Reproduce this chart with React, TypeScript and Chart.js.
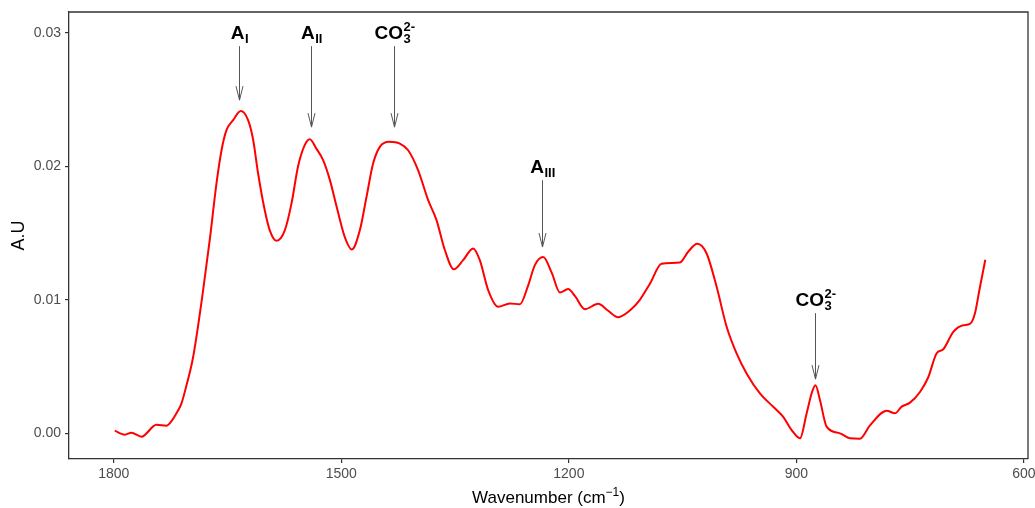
import React, { useEffect, useRef } from 'react';
import { Chart, registerables } from 'chart.js';

Chart.register(...registerables);

// Spectrum (wavenumber in cm^-1, absorbance in A.U)
const wavenumbers = [
  1798.7, 1785.5, 1776.7, 1763.5, 1743.7, 1730.5, 1726.2, 1717.3, 1710.7, 1704.1,
  1695.4, 1682.2, 1673.4, 1664.6, 1657.9, 1651.4, 1642.7, 1632.5, 1622.9, 1616.3,
  1609.7, 1600.9, 1594.3, 1585.5, 1574.5, 1565.7, 1557.0, 1548.1, 1541.5, 1532.7,
  1524.0, 1515.2, 1506.3, 1495.4, 1486.1, 1475.6, 1466.8, 1458.1, 1449.2, 1437.0,
  1422.9, 1411.9, 1398.7, 1385.5, 1374.5, 1363.5, 1351.6, 1339.4, 1326.2, 1317.4,
  1306.4, 1293.2, 1277.8, 1264.6, 1254.1, 1244.8, 1233.9, 1222.4, 1211.9, 1201.0,
  1192.1, 1178.9, 1161.4, 1148.6, 1135.0, 1119.6, 1106.4, 1093.2, 1077.8, 1053.6,
  1042.7, 1030.8, 1018.4, 1005.2, 992.0, 978.9, 965.7, 948.1, 930.6, 917.4,
  906.3, 895.3, 886.5, 879.9, 874.9, 869.0, 860.2, 842.6, 829.4, 816.2,
  803.0, 781.0, 770.1, 761.3, 750.3, 737.1, 726.2, 715.1, 706.4, 693.2,
  680.0, 671.2, 664.6, 658.9, 651.0,
];
const absorbance = [
  0.0002, -0.0001, 0.00005, -0.00025, 0.00064, 0.00057, 0.00075, 0.0015, 0.00225, 0.0036,
  0.0057, 0.0107, 0.0145, 0.0187, 0.0212, 0.0227, 0.02345, 0.02413, 0.02345, 0.0220,
  0.01946, 0.0167, 0.0152, 0.01442, 0.0152, 0.0172, 0.0200, 0.0216, 0.02203, 0.0213,
  0.02046, 0.0190, 0.0170, 0.0147, 0.01377, 0.0152, 0.0177, 0.0202, 0.02145, 0.02183,
  0.0217, 0.0212, 0.0197, 0.01746, 0.01597, 0.01373, 0.01228, 0.01297, 0.01385, 0.01297,
  0.01073, 0.00948, 0.00973, 0.00966, 0.0110, 0.0126, 0.0132, 0.0120, 0.01055, 0.0108,
  0.0103, 0.0093, 0.0097, 0.0092, 0.0087, 0.0092, 0.0100, 0.0112, 0.0127, 0.0128,
  0.0136, 0.0142, 0.01347, 0.01097, 0.00798, 0.00599, 0.00449, 0.00299, 0.00199, 0.00124,
  0.00025, -0.00037, 0.0015, 0.0030, 0.0036, 0.0025, 0.0005, 0.0000, -0.00037, -0.0004,
  0.0006, 0.0017, 0.0015, 0.0020, 0.0023, 0.0031, 0.0042, 0.0060, 0.0063, 0.0076,
  0.0081, 0.0082, 0.0090, 0.0107, 0.0130,
];

const xTicks = [1800, 1500, 1200, 900, 600];
const yTicks = [0, 0.01, 0.02, 0.03];
const xTitle = 'Wavenumber (cm';
const xTitleSup = '\u22121';
const yTitle = 'A.U';

// Band annotations
const annMain = ['A', 'A', 'CO', 'A', 'CO'];
const annSub = ['I', 'II', '3', 'III', '3'];
const annSup = ['', '', '2-', '', '2-'];
const annWavenumber = [1635, 1540.6, 1430.8, 1236, 875.6];
const annArrowTop = [0.02899, 0.02899, 0.02899, 0.01896, 0.0090];
const annArrowTip = [0.02495, 0.02293, 0.02293, 0.01395, 0.00406];

const FONT = '"Liberation Sans", Arial, Helvetica, sans-serif';

const decorPlugin = {
  id: 'decor',
  afterDatasetsDraw(chart: any) {
    const { ctx, chartArea, scales } = chart;
    const x = scales.x;
    const y = scales.y;
    ctx.save();
    // top and right borders
    ctx.strokeStyle = '#333333';
    ctx.lineWidth = 1.3;
    ctx.beginPath();
    ctx.moveTo(chartArea.left, chartArea.top);
    ctx.lineTo(chartArea.right, chartArea.top);
    ctx.lineTo(chartArea.right, chartArea.bottom);
    ctx.stroke();

    // annotations
    for (let i = 0; i < annMain.length; i++) {
      const px = Math.round(x.getPixelForValue(annWavenumber[i])) + 0.5;
      const top = y.getPixelForValue(annArrowTop[i]);
      const tip = y.getPixelForValue(annArrowTip[i]);
      ctx.strokeStyle = '#555555';
      ctx.lineWidth = 1;
      ctx.beginPath();
      ctx.moveTo(px, top);
      ctx.lineTo(px, tip);
      ctx.stroke();
      ctx.beginPath();
      ctx.moveTo(px - 3.5, tip - 14);
      ctx.lineTo(px, tip);
      ctx.lineTo(px + 3.5, tip - 14);
      ctx.stroke();

      const base = top - 7;
      ctx.fillStyle = '#000000';
      ctx.textBaseline = 'alphabetic';
      ctx.textAlign = 'left';
      ctx.font = `bold 19px ${FONT}`;
      const mw = ctx.measureText(annMain[i]).width;
      ctx.font = `bold 13px ${FONT}`;
      const sw = Math.max(ctx.measureText(annSub[i]).width, ctx.measureText(annSup[i]).width);
      const start = px - (mw + sw) / 2;
      ctx.font = `bold 19px ${FONT}`;
      ctx.fillText(annMain[i], start, base);
      ctx.font = `bold 13px ${FONT}`;
      ctx.fillText(annSub[i], start + mw + 0.5, base + 4);
      if (annSup[i]) ctx.fillText(annSup[i], start + mw + 0.5, base - 8);
    }

    // axis titles
    ctx.fillStyle = '#000000';
    ctx.font = `17px ${FONT}`;
    const cx = (chartArea.left + chartArea.right) / 2;
    const tw = ctx.measureText(xTitle).width;
    ctx.font = `12px ${FONT}`;
    const supw = ctx.measureText(xTitleSup).width;
    ctx.font = `17px ${FONT}`;
    const pw = ctx.measureText(')').width;
    const total = tw + supw + pw;
    const sx = cx - total / 2;
    const by = 503;
    ctx.textAlign = 'left';
    ctx.fillText(xTitle, sx, by);
    ctx.font = `12px ${FONT}`;
    ctx.fillText(xTitleSup, sx + tw, by - 7);
    ctx.font = `17px ${FONT}`;
    ctx.fillText(')', sx + tw + supw, by);

    ctx.translate(19, (chartArea.top + chartArea.bottom) / 2);
    ctx.rotate(-Math.PI / 2);
    ctx.textAlign = 'center';
    ctx.textBaseline = 'middle';
    ctx.font = `18px ${FONT}`;
    ctx.fillText(yTitle, 0, 0);
    ctx.restore();
  },
};

export default function App() {
  const ref = useRef<HTMLCanvasElement>(null);
  useEffect(() => {
    document.body.style.margin = '0';
    const canvas = ref.current;
    if (!canvas) return;
    const points = wavenumbers.map((w, i) => ({ x: w, y: absorbance[i] }));
    const chart = new Chart(canvas, {
      type: 'line',
      data: {
        datasets: [
          {
            data: points,
            borderColor: '#ff0000',
            borderWidth: 2,
            pointRadius: 0,
            fill: false,
            cubicInterpolationMode: 'monotone',
          },
        ],
      },
      options: {
        animation: false,
        responsive: true,
        maintainAspectRatio: false,
        layout: { padding: { top: 12, right: 7, left: 0, bottom: 0 } },
        plugins: { legend: { display: false }, tooltip: { enabled: false } },
        scales: {
          x: {
            type: 'linear',
            reverse: true,
            min: 594.7,
            max: 1859,
            afterBuildTicks: (s: any) => {
              s.ticks = xTicks.map((v) => ({ value: v }));
            },
            afterFit: (s: any) => {
              s.height = 49;
              s.paddingLeft = 0;
              s.paddingRight = 0;
            },
            ticks: {
              color: '#4d4d4d',
              font: { size: 14, family: FONT },
              padding: 3,
              maxRotation: 0,
              autoSkip: false,
              callback: (v: any) => String(v),
            },
            grid: {
              drawOnChartArea: false,
              drawTicks: true,
              tickLength: 4,
              tickColor: '#333333',
              lineWidth: 1.2,
            },
            border: { display: true, color: '#333333', width: 1.3 },
          },
          y: {
            type: 'linear',
            min: -0.00192,
            max: 0.03155,
            afterBuildTicks: (s: any) => {
              s.ticks = yTicks.map((v) => ({ value: v }));
            },
            afterFit: (s: any) => {
              s.width = 69;
              s.paddingTop = 0;
              s.paddingBottom = 0;
            },
            ticks: {
              color: '#4d4d4d',
              font: { size: 14, family: FONT },
              padding: 4,
              callback: (v: any) => Number(v).toFixed(2),
            },
            grid: {
              drawOnChartArea: false,
              drawTicks: true,
              tickLength: 4,
              tickColor: '#333333',
              lineWidth: 1.2,
            },
            border: { display: true, color: '#333333', width: 1.3 },
          },
        },
      },
      plugins: [decorPlugin],
    });
    return () => chart.destroy();
  }, []);
  return (
    <div style={{ position: 'absolute', left: 0, top: 0, width: 1035, height: 508 }}>
      <canvas ref={ref} />
    </div>
  );
}
